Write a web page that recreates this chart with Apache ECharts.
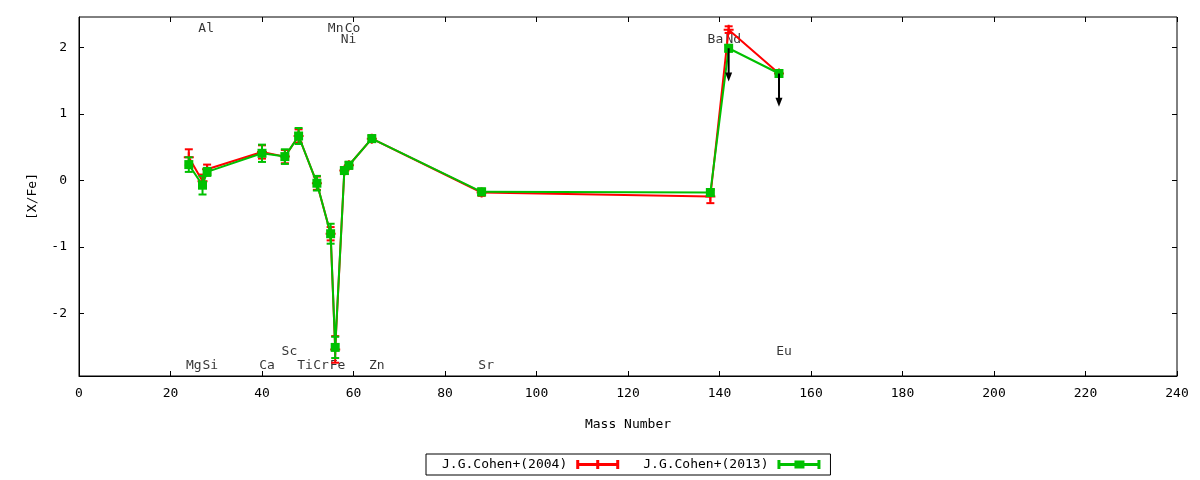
<!DOCTYPE html>
<html><head><meta charset="utf-8">
<script src="https://cdn.jsdelivr.net/npm/echarts@6/dist/echarts.min.js"></script>
<style>html,body{margin:0;padding:0;background:#fff}#c{width:1200px;height:480px}</style>
</head><body><div id="c"></div>
<script>
// ---- data ----
const elements     = ['Mg','Al','Si','Ca','Sc','Ti','Cr','Mn','Fe','Ni','Co','Zn','Sr','Ba','Nd','Eu'];
const massNumber   = [24, 27, 28, 40, 45, 48, 52, 55, 56, 58, 59, 64, 88, 138, 142, 153];
const cohen2004    = [0.35, -0.01, 0.17, 0.43, 0.36, 0.67, -0.04, -0.80, -2.54, 0.15, 0.23, 0.63, -0.18, -0.24, 2.27, 1.61];
const cohen2004Err = [0.12, 0.10, 0.07, 0.10, 0.10, 0.10, 0.10, 0.10, 0.20, 0.05, 0.05, 0.05, 0.05, 0.10, 0.05, 0.05];
const cohen2013    = [0.24, -0.07, 0.13, 0.41, 0.36, 0.67, -0.04, -0.80, -2.51, 0.15, 0.23, 0.63, -0.17, -0.18, 1.99, 1.61];
const cohen2013Err = [0.11, 0.14, 0.06, 0.13, 0.11, 0.12, 0.11, 0.15, 0.16, 0.05, 0.05, 0.05, 0.05, 0.05, 0.05, 0.05];
const upperLimitMass  = [142, 153];
const upperLimitValue = [1.99, 1.61];
const xTicks = [0, 20, 40, 60, 80, 100, 120, 140, 160, 180, 200, 220, 240];
const yTicks = [-2, -1, 0, 1, 2];
const labelNames = ['Mg','Si','Ca','Sc','Ti','Cr','Fe','Zn','Sr','Eu','Al','Mn','Co','Ni','Ba','Nd'];
const labelX     = [25.1, 28.7, 41.1, 46.0, 49.4, 52.9, 56.5, 65.1, 89.0, 154.1, 27.8, 56.1, 59.8, 58.9, 139.1, 143.0];
const labelY     = [-2.79,-2.79,-2.79,-2.58,-2.79,-2.79,-2.79,-2.79,-2.79,-2.58, 2.28, 2.28, 2.28, 2.12, 2.12, 2.12];

const FONT = 'DejaVu Sans Mono';
const RED = '#ff0000', GREEN = '#00c000';

const pts = (ys) => massNumber.map((m, i) => [m, ys[i]]);
const errs = (ys, es) => massNumber.map((m, i) => [m, ys[i] - es[i], ys[i] + es[i]]);

function errRender(color) {
  return function (params, api) {
    const x = api.value(0), lo = api.value(1), hi = api.value(2);
    const p1 = api.coord([x, lo]), p2 = api.coord([x, hi]);
    const cw = 4;
    const style = { stroke: color, lineWidth: 2 };
    return { type: 'group', children: [
      { type: 'line', shape: { x1: p1[0], y1: p1[1], x2: p2[0], y2: p2[1] }, style },
      { type: 'line', shape: { x1: p1[0] - cw, y1: p1[1], x2: p1[0] + cw, y2: p1[1] }, style },
      { type: 'line', shape: { x1: p2[0] - cw, y1: p2[1], x2: p2[0] + cw, y2: p2[1] }, style }
    ]};
  };
}
const ARROW_LEN = 0.5;
function arrowRender(params, api) {
  const x = api.value(0), y = api.value(1);
  const a = api.coord([x, y]), b = api.coord([x, y - ARROW_LEN]);
  const hw = 3.5, hh = 9;
  return { type: 'group', children: [
    { type: 'line', shape: { x1: a[0], y1: a[1], x2: b[0], y2: b[1] - hh + 1 }, style: { stroke: '#000', lineWidth: 2 } },
    { type: 'polygon', shape: { points: [[b[0] - hw, b[1] - hh], [b[0] + hw, b[1] - hh], [b[0], b[1]]] }, style: { fill: '#000' } }
  ]};
}

const chart = echarts.init(document.getElementById('c'), null, { renderer: 'canvas' });
const axisTxt = { color: '#000', fontFamily: FONT, fontSize: 13 };
chart.setOption({
  animation: false,
  backgroundColor: '#fff',
  grid: { left: 79, right: 23, top: 17, bottom: 104, show: true, borderColor: '#000', borderWidth: 1 },
  xAxis: [{
    type: 'value', min: 0, max: 240, interval: 20,
    name: 'Mass Number', nameLocation: 'middle', nameGap: 42, nameTextStyle: axisTxt,
    axisLine: { show: true, onZero: false, lineStyle: { color: '#000', width: 1 } },
    axisTick: { show: true, inside: true, length: 5, lineStyle: { color: '#000' } },
    axisLabel: Object.assign({ margin: 11 }, axisTxt),
    splitLine: { show: false }
  }, {
    type: 'value', position: 'top', min: 0, max: 240, interval: 20,
    axisLine: { show: false, onZero: false },
    axisTick: { show: true, inside: true, length: 5, lineStyle: { color: '#000' } },
    axisLabel: { show: false }, splitLine: { show: false }
  }],
  yAxis: [{
    type: 'value', min: -2.94, max: 2.46,
    name: '[X/Fe]', nameLocation: 'middle', nameGap: 40, nameTextStyle: axisTxt,
    axisLine: { show: true, onZero: false, lineStyle: { color: '#000', width: 1 } },
    axisTick: { show: true, inside: true, length: 5, customValues: yTicks, lineStyle: { color: '#000' } },
    axisLabel: Object.assign({ margin: 12, customValues: yTicks }, axisTxt),
    splitLine: { show: false }
  }, {
    type: 'value', position: 'right', min: -2.94, max: 2.46,
    axisLine: { show: false, onZero: false },
    axisTick: { show: true, inside: true, length: 5, customValues: yTicks, lineStyle: { color: '#000' } },
    axisLabel: { show: false, customValues: yTicks }, splitLine: { show: false }
  }],
  legend: {
    left: 426, top: 454, orient: 'horizontal', align: 'right',
    padding: [4, 10, 4, 16], itemGap: 24, itemWidth: 43, itemHeight: 10,
    borderColor: '#000', borderWidth: 1, borderRadius: 0,
    textStyle: { color: '#000', fontFamily: FONT, fontSize: 13, padding: [0, 4, 0, 0] },
    itemStyle: { borderWidth: 0 },
    selectedMode: false,
    data: [
      { name: 'J.G.Cohen+(2004)', icon: 'path://M0,3.5H43V6.5H0ZM0,0.5H3V9.5H0ZM40,0.5H43V9.5H40ZM20,0.5H23V9.5H20Z' },
      { name: 'J.G.Cohen+(2013)', icon: 'path://M0,3.5H43V6.5H0ZM0,0.5H3V9.5H0ZM40,0.5H43V9.5H40ZM17,1H27V9H17Z' }
    ]
  },
  series: [
    {
      name: 'labels', type: 'scatter', z: 1, symbolSize: 0, silent: true,
      data: labelNames.map((n, i) => ({ value: [labelX[i], labelY[i]], name: n })),
      label: { show: true, position: 'inside', formatter: '{b}', color: '#000', fontFamily: FONT, fontSize: 13 }
    },
    {
      name: 'err2004', type: 'custom', z: 2, renderItem: errRender(RED),
      encode: { x: 0, y: [1, 2] }, data: errs(cohen2004, cohen2004Err)
    },
    {
      name: 'J.G.Cohen+(2004)', type: 'line', z: 2, data: pts(cohen2004),
      color: RED, lineStyle: { color: RED, width: 2 },
      symbol: 'path://M0,4H10V6H0ZM4,0H6V10H4Z', symbolSize: 10, showAllSymbol: true,
      itemStyle: { color: RED }
    },
    {
      name: 'err2013', type: 'custom', z: 3, renderItem: errRender(GREEN),
      encode: { x: 0, y: [1, 2] }, data: errs(cohen2013, cohen2013Err)
    },
    {
      name: 'J.G.Cohen+(2013)', type: 'line', z: 3, data: pts(cohen2013),
      color: GREEN, lineStyle: { color: GREEN, width: 2 },
      symbol: 'rect', symbolSize: 9, showAllSymbol: true,
      itemStyle: { color: GREEN }
    },
    {
      name: 'upper limits', type: 'custom', z: 4, renderItem: arrowRender,
      encode: { x: 0, y: 1 }, data: upperLimitMass.map((m, i) => [m, upperLimitValue[i]])
    }
  ]
});
</script>
</body></html>
